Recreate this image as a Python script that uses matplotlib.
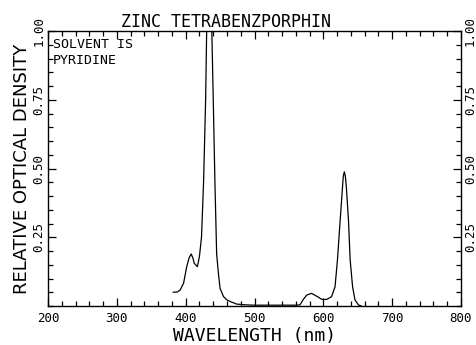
import matplotlib.pyplot as plt
from matplotlib.ticker import MultipleLocator

# ------------------------------------------------------------
# Data
# ------------------------------------------------------------
wavelength = [382, 388, 392, 397, 401.5, 405, 408, 410.5, 412.5, 417, 420,
              423, 426, 429, 430.5, 432, 434, 436, 438, 440, 442.5, 445,
              447.5, 450, 455, 460, 465, 474, 488, 500, 520, 540, 560, 566,
              571, 576, 583, 590, 598, 605, 612, 617, 620.5, 624.5, 627.5,
              629, 630.5, 632, 633.5, 636.5, 639, 642.5, 646, 651, 655]
density = [0.050, 0.051, 0.058, 0.083, 0.143, 0.175, 0.189, 0.175, 0.155,
           0.143, 0.18, 0.25, 0.45, 0.75, 1.0, 1.2, 1.3, 1.2, 1.0, 0.76,
           0.45, 0.19, 0.12, 0.064, 0.034, 0.022, 0.016, 0.007, 0.004,
           0.003, 0.003, 0.003, 0.003, 0.004, 0.024, 0.040, 0.046, 0.036,
           0.024, 0.024, 0.034, 0.070, 0.167, 0.313, 0.42, 0.472, 0.488,
           0.472, 0.43, 0.313, 0.167, 0.070, 0.022, 0.004, 0.0]

x_ticks = [200, 300, 400, 500, 600, 700, 800]
y_ticks = [0.25, 0.50, 0.75, 1.00]
y_ticklabels = ["0.25", "0.50", "0.75", "1.00"]

FONT = "DejaVu Sans Mono"
plt.rcParams["font.family"] = FONT

fig = plt.figure(figsize=(4.76, 3.45), dpi=100)
ax = fig.add_axes([48 / 476, 39 / 345, 413 / 476, 275 / 345])

ax.plot(wavelength, density, color="black", lw=0.9)
ax.set_xlim(200, 800)
ax.set_ylim(0, 1.0)

ax.set_xticks(x_ticks)
ax.xaxis.set_minor_locator(MultipleLocator(20))
ax.set_yticks(y_ticks)
ax.set_yticklabels(y_ticklabels, rotation=90, va="center")
ax.yaxis.set_minor_locator(MultipleLocator(0.05))

ax.tick_params(which="both", direction="in", top=True, right=True,
               labelright=True, width=0.9, labelsize=9)
ax.tick_params(which="major", length=6)
ax.tick_params(which="minor", length=3.5)
ax.tick_params(axis="y", pad=2)
ax.tick_params(axis="x", pad=4)
for lab in ax.get_yticklabels(which="both"):
    lab.set_rotation(90)
for s in ax.spines.values():
    s.set_linewidth(1.0)

ax.set_xlabel("WAVELENGTH (nm)", fontsize=13, labelpad=2)
ax.set_ylabel("RELATIVE OPTICAL DENSITY", fontsize=13, labelpad=1,
              family="DejaVu Sans")
ax.set_title("ZINC TETRABENZPORPHIN", fontsize=12, x=0.431, pad=2)

ax.text(0.012, 0.975, "SOLVENT IS\nPYRIDINE", transform=ax.transAxes,
        fontsize=9.5, va="top", ha="left", linespacing=1.35)

fig.savefig("out.png", dpi=100)
